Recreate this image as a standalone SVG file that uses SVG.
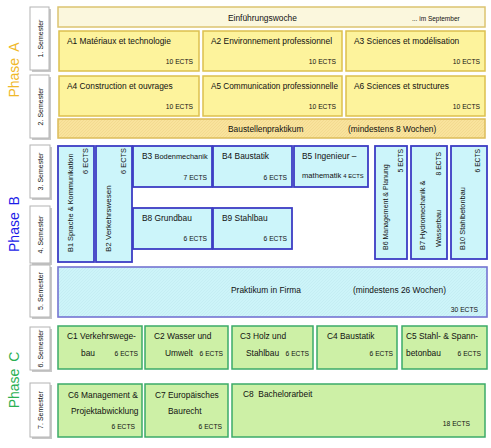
<svg xmlns="http://www.w3.org/2000/svg" width="491" height="448" viewBox="0 0 491 448">
<defs>
<pattern id="hatchY" width="3" height="3" patternUnits="userSpaceOnUse">
<rect width="3" height="3" fill="#f9e39c"/>
<path d="M0,3 L3,0" stroke="#efd488" stroke-width="0.6"/>
</pattern>
<pattern id="hatchB" width="3" height="3" patternUnits="userSpaceOnUse">
<rect width="3" height="3" fill="#cdf4f9"/>
<path d="M0,3 L3,0" stroke="#bfe9ef" stroke-width="0.6"/>
</pattern>
</defs>
<style>
text{font-family:"Liberation Sans",Arial,sans-serif;fill:#111;}
.t{font-size:8.4px;}
.r{font-size:7.4px;}
.e{font-size:6.7px;text-anchor:end;}
.sm{font-size:6.5px;}
.sh{fill:#c8c8c8;}
.sem{fill:#ffffff;stroke:#b4b4b4;stroke-width:1;}
.semt{font-size:7px;text-anchor:middle;}
.ya{fill:#fdf39c;stroke:#dcc04e;stroke-width:1.5;}
.yw{fill:#fbf7dd;stroke:#dcc470;stroke-width:1.5;}
.yb{fill:url(#hatchY);stroke:#dcbc5a;stroke-width:1.5;}
.b{fill:#ccf5fa;stroke:#3c3cc4;stroke-width:1.8;}
.bp{fill:url(#hatchB);stroke:#7474d2;stroke-width:1.6;}
.c{fill:#cdf0a6;stroke:#3bab68;stroke-width:1.5;}
.ph{font-size:14px;text-anchor:middle;word-spacing:3px;}
</style>
<rect width="491" height="448" fill="#ffffff"/>

<!-- phase labels -->
<g id="phaseA"><text class="ph" transform="translate(18.5,70) rotate(-90)" style="fill:#f0b82a">Phase A</text></g>
<g id="phaseB"><text class="ph" transform="translate(18.5,224) rotate(-90)" style="fill:#1c1ce8">Phase B</text></g>
<g id="phaseC"><text class="ph" transform="translate(18.5,380) rotate(-90)" style="fill:#2bb052">Phase C</text></g>

<!-- semester labels -->
<g id="sem1"><rect class="sh" x="32" y="9" width="19" height="63"/><rect class="sem" x="30" y="7" width="19" height="63"/><text class="semt" transform="translate(42.5,38.5) rotate(-90)">1. Semester</text></g>
<g id="sem2"><rect class="sh" x="32" y="77" width="19" height="63"/><rect class="sem" x="30" y="75" width="19" height="63"/><text class="semt" transform="translate(42.5,106.5) rotate(-90)">2. Semester</text></g>
<g id="sem3"><rect class="sh" x="32" y="147" width="20" height="53"/><rect class="sem" x="30" y="145" width="20" height="53"/><text class="semt" transform="translate(43,171.5) rotate(-90)">3. Semester</text></g>
<g id="sem4"><rect class="sh" x="32" y="208" width="20" height="57"/><rect class="sem" x="30" y="206" width="20" height="57"/><text class="semt" transform="translate(43,234.5) rotate(-90)">4. Semester</text></g>
<g id="sem5"><rect class="sh" x="32" y="267" width="20" height="52"/><rect class="sem" x="30" y="265" width="20" height="52"/><text class="semt" transform="translate(43,291) rotate(-90)">5. Semester</text></g>
<g id="sem6"><rect class="sh" x="32" y="329" width="20" height="43"/><rect class="sem" x="30" y="327" width="20" height="43"/><text class="semt" transform="translate(43,348.5) rotate(-90)">6. Semester</text></g>
<g id="sem7"><rect class="sh" x="32" y="385" width="20" height="54"/><rect class="sem" x="30" y="383" width="20" height="54"/><text class="semt" transform="translate(43,410) rotate(-90)">7. Semester</text></g>

<!-- Phase A -->
<g id="einf"><rect class="yw" x="58" y="7" width="427" height="20"/><text class="t" x="228" y="20.5">Einführungswoche</text><text class="sm" x="412" y="20.5">... im September</text></g>
<g id="A1"><rect class="ya" x="59" y="31" width="140" height="40"/><text class="t" x="67" y="44">A1 Matériaux et technologie</text><text class="e" x="193" y="64">10 ECTS</text></g>
<g id="A2"><rect class="ya" x="203" y="31" width="139" height="40"/><text class="t" x="211" y="44">A2 Environnement professionnel</text><text class="e" x="336" y="64">10 ECTS</text></g>
<g id="A3"><rect class="ya" x="346" y="31" width="139" height="40"/><text class="t" x="354" y="44">A3 Sciences et modélisation</text><text class="e" x="480" y="64">10 ECTS</text></g>
<g id="A4"><rect class="ya" x="59" y="76" width="140" height="40"/><text class="t" x="67" y="89">A4 Construction et ouvrages</text><text class="e" x="193" y="109">10 ECTS</text></g>
<g id="A5"><rect class="ya" x="203" y="76" width="139" height="40"/><text class="t" x="211" y="89" textLength="127" lengthAdjust="spacingAndGlyphs">A5 Communication professionnelle</text><text class="e" x="336" y="109">10 ECTS</text></g>
<g id="A6"><rect class="ya" x="346" y="76" width="139" height="40"/><text class="t" x="354" y="89">A6 Sciences et structures</text><text class="e" x="480" y="109">10 ECTS</text></g>
<g id="baust"><rect class="yb" x="58" y="119" width="427" height="19"/><text class="t" x="228" y="131.5">Baustellenpraktikum</text><text class="t" x="348" y="131.5">(mindestens 8 Wochen)</text></g>

<!-- Phase B -->
<g id="B1"><rect class="b" x="58" y="146" width="36" height="116"/><text class="r" transform="translate(73,252) rotate(-90)">B1 Sprache &amp; Kommunikation</text><text class="e" style="font-size:7.4px" transform="translate(87.5,148) rotate(-90)">6 ECTS</text></g>
<g id="B2"><rect class="b" x="96" y="146" width="36" height="116"/><text class="r" style="font-size:8px" transform="translate(111,252) rotate(-90)">B2 Verkehrswesen</text><text class="e" style="font-size:7.4px" transform="translate(125.5,148) rotate(-90)">6 ECTS</text></g>
<g id="B3"><rect class="b" x="133" y="146" width="79" height="41"/><text class="t" x="142" y="159">B3 <tspan style="font-size:7.4px">Bodenmechanik</tspan></text><text class="e" x="207" y="180">7 ECTS</text></g>
<g id="B4"><rect class="b" x="213" y="146" width="79" height="41"/><text class="t" x="222" y="159">B4 Baustatik</text><text class="e" x="287" y="180">6 ECTS</text></g>
<g id="B5"><rect class="b" x="294" y="146" width="74" height="41"/><text class="t" x="302" y="159">B5 Ingenieur –</text><text class="t" x="302" y="178" style="font-size:7.6px">mathematik <tspan style="font-size:5.8px">4 ECTS</tspan></text></g>
<g id="B6"><rect class="b" x="375" y="146" width="32" height="113"/><text class="r" style="font-size:7px" transform="translate(388,250) rotate(-90)">B6 Management &amp; Planung</text><text class="e" transform="translate(403,149) rotate(-90)">5 ECTS</text></g>
<g id="B7"><rect class="b" x="411" y="146" width="36" height="113"/><text class="r" transform="translate(425,250) rotate(-90)">B7 Hydromechanik &amp;</text><text class="r" transform="translate(441,247) rotate(-90)">Wasserbau</text><text class="e" transform="translate(441,152) rotate(-90)">8 ECTS</text></g>
<g id="B10"><rect class="b" x="451" y="146" width="36" height="113"/><text class="r" transform="translate(465,250) rotate(-90)">B10 Stahlbetonbau</text><text class="e" transform="translate(480,149) rotate(-90)">6 ECTS</text></g>
<g id="B8"><rect class="b" x="133" y="208" width="79" height="41"/><text class="t" x="142" y="221">B8 Grundbau</text><text class="e" x="207" y="241">6 ECTS</text></g>
<g id="B9"><rect class="b" x="213" y="208" width="79" height="41"/><text class="t" x="222" y="221">B9 Stahlbau</text><text class="e" x="287" y="241">6 ECTS</text></g>
<g id="prak"><rect class="bp" x="58" y="267" width="429" height="50"/><text class="t" x="231" y="292.5">Praktikum in Firma</text><text class="t" x="353" y="292.5">(mindestens 26 Wochen)</text><text class="e" x="478" y="312">30 ECTS</text></g>

<!-- Phase C -->
<g id="C1"><rect class="c" x="58" y="326" width="84" height="43"/><text class="t" x="67" y="339">C1 Verkehrswege-</text><text class="t" x="81" y="356">bau</text><text class="e" x="138" y="356">6 ECTS</text></g>
<g id="C2"><rect class="c" x="145" y="326" width="83" height="43"/><text class="t" x="154" y="339">C2 Wasser und</text><text class="t" x="165" y="356">Umwelt</text><text class="e" x="223" y="356">6 ECTS</text></g>
<g id="C3"><rect class="c" x="232" y="326" width="81" height="43"/><text class="t" x="240" y="339">C3 Holz und</text><text class="t" x="246" y="356">Stahlbau</text><text class="e" x="309" y="356">6 ECTS</text></g>
<g id="C4"><rect class="c" x="317" y="326" width="80" height="43"/><text class="t" x="327" y="339">C4 Baustatik</text><text class="e" x="393" y="356">6 ECTS</text></g>
<g id="C5"><rect class="c" x="402" y="326" width="85" height="43"/><text class="t" x="406" y="339">C5 Stahl- &amp; Spann-</text><text class="t" x="406" y="356">betonbau</text><text class="e" x="481" y="356">6 ECTS</text></g>
<g id="C6"><rect class="c" x="58" y="384" width="84" height="53"/><text class="t" x="68" y="398">C6 Management &amp;</text><text class="t" x="71" y="414">Projektabwicklung</text><text class="e" x="135" y="429">6 ECTS</text></g>
<g id="C7"><rect class="c" x="145" y="384" width="83" height="53"/><text class="t" x="155" y="398">C7 Europäisches</text><text class="t" x="168" y="414">Baurecht</text><text class="e" x="222" y="429">6 ECTS</text></g>
<g id="C8"><rect class="c" x="232" y="384" width="253" height="53"/><text class="t" x="243" y="397" xml:space="preserve">C8  Bachelorarbeit</text><text class="e" x="470" y="426">18 ECTS</text></g>
</svg>
